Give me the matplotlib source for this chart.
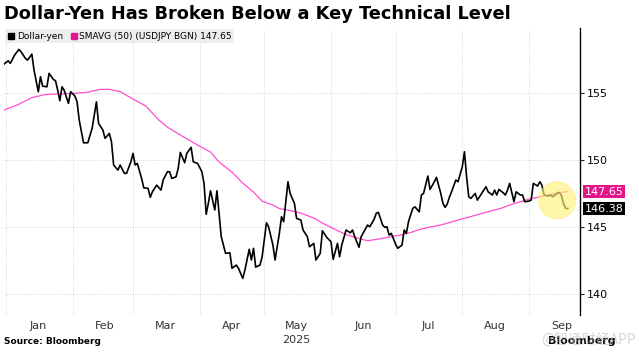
import numpy as np
import matplotlib.pyplot as plt
import matplotlib.dates as mdates
import matplotlib.transforms as mtransforms
from matplotlib.lines import Line2D

# day offsets from 2025-01-01 and USDJPY close
price_days = [-1, 1, 2, 4, 6, 7, 9, 10, 12, 13, 15, 16, 17, 19, 20, 22, 23, 24, 25, 26,
              27, 29, 30, 32, 33, 34, 36, 38, 40, 42, 43, 45, 46, 48, 49, 50, 52, 53, 55, 56,
              58, 59, 60, 61, 63, 64, 66, 67, 68, 70, 72, 73, 75, 76, 77, 79, 80, 81, 83, 84,
              86, 87, 89, 91, 92, 93, 94, 95, 97, 98, 99, 100, 101, 102, 104, 105, 107, 108, 110, 111,
              113, 114, 115, 116, 118, 119, 121, 122, 124, 125, 127, 128, 129, 131, 132, 134, 135, 137, 138, 140,
              141, 143, 144, 146, 147, 149, 151, 152, 154, 155, 156, 158, 160, 161, 162, 164, 165, 168, 169, 171,
              172, 173, 175, 176, 177, 178, 179, 181, 182, 184, 185, 186, 187, 189, 190, 192, 193, 194, 196, 197,
              199, 200, 202, 203, 204, 205, 206, 207, 209, 210, 212, 213, 214, 215, 216, 218, 219, 221, 223, 224,
              226, 227, 228, 229, 231, 232, 233, 234, 236, 237, 239, 240, 241, 243, 244, 245, 247, 248, 249, 250,
              252, 253, 254, 256, 257, 258, 259, 260, 261]
price_vals = [157.16, 157.41, 157.22, 157.84, 158.26, 158.08, 157.59, 157.46, 157.91, 156.72,
              155.10, 156.22, 155.52, 155.47, 156.47, 156.02, 155.92, 155.22, 154.43, 155.47,
              155.22, 154.23, 155.10, 154.78, 154.35, 152.99, 151.29, 151.29, 152.37, 154.35,
              152.74, 152.24, 151.62, 151.99, 151.37, 149.63, 149.25, 149.63, 149.01, 149.01,
              149.87, 150.50, 149.63, 149.75, 148.63, 147.93, 147.89, 147.22, 147.63, 148.13,
              147.76, 148.51, 149.13, 149.13, 148.63, 148.75, 149.38, 150.57, 149.80, 150.50,
              150.95, 149.87, 149.75, 149.13, 148.26, 145.95, 146.77, 147.71, 146.27, 147.71,
              146.02, 144.28, 143.66, 143.04, 143.08, 141.92, 142.16, 141.92, 141.17, 141.79,
              143.34, 142.54, 143.41, 142.01, 142.16, 142.78, 145.32, 145.02, 143.66, 142.54,
              144.53, 145.77, 145.40, 148.38, 147.51, 146.77, 145.65, 145.52, 144.78, 144.28,
              143.53, 143.78, 142.54, 143.04, 144.72, 144.23, 143.90, 142.59, 143.78, 142.78,
              143.66, 144.78, 144.57, 144.78, 144.28, 143.49, 144.28, 145.15, 145.02, 145.57,
              146.02, 146.10, 145.15, 144.98, 145.02, 144.40, 144.53, 143.73, 143.41, 143.66,
              144.78, 144.53, 145.40, 146.40, 146.51, 146.14, 147.39, 147.51, 148.81, 147.81,
              148.38, 148.71, 147.51, 146.77, 146.47, 146.72, 147.22, 147.63, 148.51, 148.38,
              149.50, 150.62, 148.75, 147.26, 147.14, 147.51, 147.01, 147.51, 148.01, 147.63,
              147.39, 147.76, 147.39, 147.81, 147.56, 147.39, 147.76, 148.26, 146.89, 147.63,
              147.39, 147.39, 146.89, 146.94, 147.01, 148.26, 148.06, 148.38, 148.13, 147.39,
              147.31, 147.39, 147.26, 147.51, 147.59, 147.39, 146.77, 146.40, 146.38]

sma_days = [-1, 5, 12, 18, 25, 32, 38, 44, 48, 53, 59, 65, 71, 75, 81, 89, 95, 99, 105, 110,
            115, 119, 124, 127, 132, 137, 143, 147, 152, 158, 164, 168, 173, 178, 183, 188, 192, 197, 202, 206,
            211, 216, 220, 225, 230, 234, 239, 243, 248, 253, 257, 261]
sma_vals = [153.73, 154.10, 154.66, 154.89, 154.93, 154.98, 155.07, 155.28, 155.28, 155.11,
            154.55, 154.03, 152.99, 152.46, 151.87, 151.12, 150.60, 149.85, 149.10, 148.28,
            147.61, 146.94, 146.64, 146.38, 146.23, 146.04, 145.67, 145.30, 144.89, 144.44,
            144.14, 143.98, 144.10, 144.25, 144.40, 144.59, 144.81, 145.00, 145.15, 145.34,
            145.57, 145.78, 145.97, 146.19, 146.40, 146.64, 146.89, 147.09, 147.26, 147.43,
            147.56, 147.65]

last_price = "146.38"
last_sma = "147.65"
y_ticks = [140, 145, 150, 155]

black = "#000000"
pink = "#ff4fcf"
magenta = "#e4148b"

x0 = mdates.date2num(np.datetime64("2025-01-01"))
px = x0 + np.array(price_days)
sx = x0 + np.array(sma_days)

fig = plt.figure(figsize=(6.39, 3.56), dpi=100)
ax = fig.add_axes([0.0063, 0.115, 0.9014, 0.806])

ax.plot(sx, sma_vals, color=pink, lw=0.9, zorder=3)
ax.plot(px, price_vals, color=black, lw=1.2, zorder=4)

# yellow highlight around the latest move
ax.scatter([x0 + 256], [147.0], s=720, color="#fff27a", alpha=0.65,
           edgecolors="#f0dc40", linewidths=0.8, linestyles=":", zorder=5)

ax.set_xlim(x0 - 0.93, x0 + 266.7)
ax.set_ylim(138.43, 159.85)

ax.xaxis.set_major_locator(mdates.MonthLocator())
ax.xaxis.set_major_formatter(plt.NullFormatter())
ax.xaxis.set_minor_locator(mdates.MonthLocator(bymonthday=16))
ax.xaxis.set_minor_formatter(mdates.DateFormatter("%b"))
ax.tick_params(axis="x", which="both", length=0, labelsize=8, labelcolor="#333333", pad=4)

ax.yaxis.tick_right()
ax.set_yticks(y_ticks)
ax.tick_params(axis="y", length=3, width=0.8, labelsize=8, pad=2, color="#222222")
ax.grid(True, which="major", color="#cccccc", lw=0.6, ls=":")

for side in ["top", "left", "bottom"]:
    ax.spines[side].set_visible(False)
ax.spines["right"].set_linewidth(1.0)

# value tags on the right axis
trans = mtransforms.blended_transform_factory(ax.transAxes, ax.transData)
ax.text(1.008, float(last_sma), last_sma, transform=trans, color="white", fontsize=8,
        va="center", ha="left", bbox=dict(boxstyle="square,pad=0.15", fc=magenta, ec="none"))
ax.text(1.008, float(last_price), last_price, transform=trans, color="white", fontsize=8,
        va="center", ha="left", bbox=dict(boxstyle="square,pad=0.15", fc=black, ec="none"))

handles = [Line2D([], [], marker="s", ls="none", color=black, markersize=5),
           Line2D([], [], marker="s", ls="none", color=magenta, markersize=5)]
leg = ax.legend(handles, ["Dollar-yen", "SMAVG (50) (USDJPY BGN) " + last_sma],
                loc="upper left", bbox_to_anchor=(0.0, 1.0), ncol=2, fontsize=6.5,
                frameon=True, fancybox=False, framealpha=1, borderpad=0.3,
                handletextpad=0.2, columnspacing=0.8, handlelength=0.8, borderaxespad=0.1)
leg.get_frame().set_facecolor("#eeeeee")
leg.get_frame().set_edgecolor("none")

fig.text(0.006, 0.962, "Dollar-Yen Has Broken Below a Key Technical Level",
         fontsize=12.8, fontweight="bold", va="center", ha="left")
ax.text(x0 + 135, -0.087, "2025",
        transform=mtransforms.blended_transform_factory(ax.transData, ax.transAxes),
        fontsize=8, color="#333333", ha="center", va="center")
fig.text(0.006, 0.042, "Source: Bloomberg", fontsize=6.5, fontweight="bold", va="center")
fig.text(0.963, 0.042, "Bloomberg", fontsize=8, fontweight="bold", va="center", ha="right")
fig.text(0.995, 0.047, "@智通财经APP", fontsize=10, color="#bbbbbb", alpha=0.6,
         va="center", ha="right", family=["Noto Sans CJK SC", "DejaVu Sans"])

fig.savefig("out.png", dpi=100)
